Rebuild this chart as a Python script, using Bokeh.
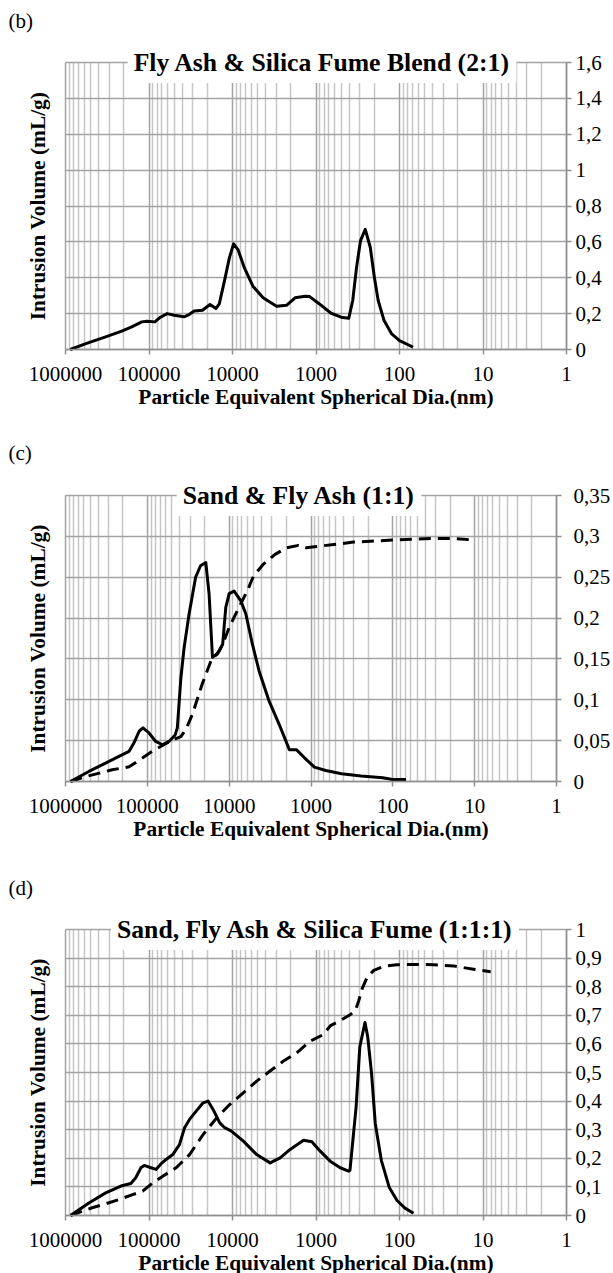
import numpy as np
from bokeh.plotting import figure
from bokeh.models import Range1d, FixedTicker, Label
from bokeh.layouts import column
from bokeh.embed import file_html
from bokeh.resources import INLINE

# ---------------- data ----------------
x_ticks = [1000000, 100000, 10000, 1000, 100, 10, 1]
x_tick_labels = ["1000000", "100000", "10000", "1000", "100", "10", "1"]

# (b) Fly Ash & Silica Fume Blend (2:1)
b_y_ticks = [0, 0.2, 0.4, 0.6, 0.8, 1.0, 1.2, 1.4, 1.6]
b_y_labels = ["0", "0,2", "0,4", "0,6", "0,8", "1", "1,2", "1,4", "1,6"]
b_dia = [880000, 537000, 337000, 212000, 161000, 122000, 106000, 85000, 73000, 60500,
         50000, 38000, 33100, 28800, 22900, 18600, 15800, 14400, 12500, 10900,
         9700, 8600, 7200, 5700, 4300, 2970, 2240, 1780, 1350, 1190,
         910, 660, 500, 405, 363, 327, 293, 257, 224, 200,
         180, 153, 124, 100, 80, 69]
b_vol = [0, 0.037, 0.069, 0.102, 0.126, 0.154, 0.158, 0.154, 0.18, 0.2,
         0.191, 0.182, 0.195, 0.214, 0.219, 0.251, 0.228, 0.254, 0.381, 0.511,
         0.589, 0.557, 0.455, 0.353, 0.288, 0.241, 0.247, 0.288, 0.297, 0.295,
         0.254, 0.202, 0.18, 0.174, 0.273, 0.458, 0.607, 0.67, 0.57, 0.403,
         0.273, 0.161, 0.087, 0.05, 0.028, 0.013]

# (c) Sand & Fly Ash (1:1)
c_y_ticks = [0, 0.05, 0.1, 0.15, 0.2, 0.25, 0.3, 0.35]
c_y_labels = ["0", "0,05", "0,1", "0,15", "0,2", "0,25", "0,3", "0,35"]
c_dia = [870000, 518000, 324000, 222000, 167000, 146000, 126000, 113000, 95500, 79000,
         65500, 54300, 45700, 43000, 38900, 35500, 30900, 25700, 22400, 19300,
         17600, 16000, 13900, 12000, 11000, 10000, 8700, 7200, 6250, 5200,
         4300, 3240, 2450, 1840, 1510, 1200, 910, 660, 424, 244,
         133, 101, 69]
c_vol = [0, 0.0123, 0.0225, 0.0307, 0.0369, 0.047, 0.0615, 0.0656, 0.0594, 0.049,
         0.045, 0.049, 0.057, 0.0656, 0.127, 0.164, 0.205, 0.25, 0.264, 0.268,
         0.23, 0.152, 0.156, 0.168, 0.213, 0.23, 0.233, 0.221, 0.205, 0.168,
         0.135, 0.098, 0.07, 0.039, 0.039, 0.029, 0.0176, 0.0135, 0.0094, 0.0066,
         0.0045, 0.0025, 0.0025]
c_cum_dia = [870000, 569000, 430000, 269000, 167000, 115000, 87000, 65500, 49000, 38900,
             33900, 28200, 21400, 16700, 13200, 12000, 10000, 7940, 5970, 5010,
             3840, 2750, 1980, 1420, 1140, 910, 525, 302, 101, 33.6,
             19.4, 10]
c_cum_vol = [0, 0.006, 0.009, 0.0143, 0.018, 0.0287, 0.037, 0.044, 0.051, 0.055,
             0.0635, 0.082, 0.119, 0.1475, 0.16, 0.168, 0.1885, 0.209, 0.234, 0.252,
             0.2656, 0.278, 0.286, 0.289, 0.286, 0.2873, 0.29, 0.293, 0.2955, 0.2975,
             0.2975, 0.2955]

# (d) Sand, Fly Ash & Silica Fume (1:1:1)
d_y_ticks = [0, 0.1, 0.2, 0.3, 0.4, 0.5, 0.6, 0.7, 0.8, 0.9, 1.0]
d_y_labels = ["0", "0,1", "0,2", "0,3", "0,4", "0,5", "0,6", "0,7", "0,8", "0,9", "1"]
d_dia = [870000, 525000, 330000, 217000, 165000, 144000, 125000, 114000, 94600, 82400,
         71600, 62400, 51900, 43200, 37500, 32700, 27200, 22500, 19600, 17100,
         14200, 12400, 10300, 7410, 5130, 3550, 2690, 2040, 1410, 1120,
         890, 676, 513, 407, 392, 331, 299, 259, 240, 216,
         195, 165, 133, 107, 86, 68]
d_vol = [0, 0.044, 0.079, 0.103, 0.112, 0.132, 0.167, 0.175, 0.167, 0.161,
         0.181, 0.196, 0.213, 0.248, 0.307, 0.336, 0.365, 0.394, 0.4, 0.371,
         0.324, 0.307, 0.295, 0.26, 0.213, 0.184, 0.2016, 0.231, 0.263, 0.258,
         0.225, 0.19, 0.167, 0.155, 0.158, 0.379, 0.589, 0.675, 0.624, 0.496,
         0.321, 0.193, 0.099, 0.0525, 0.0257, 0.008]
d_cum_dia = [870000, 631000, 479000, 330000, 228000, 157000, 119000, 90400, 68400, 47300,
             32700, 22500, 15500, 10800, 7430, 5130, 3550, 2450, 1700, 1170,
             813, 670, 509, 386, 337, 307, 280, 244, 203, 154,
             107, 67, 39, 22, 13, 8.1]
d_cum_vol = [0, 0.015, 0.027, 0.041, 0.056, 0.073, 0.085, 0.114, 0.1375, 0.167,
             0.213, 0.283, 0.341, 0.388, 0.429, 0.47, 0.505, 0.54, 0.569, 0.61,
             0.633, 0.664, 0.682, 0.703, 0.717, 0.752, 0.793, 0.833, 0.857, 0.871,
             0.877, 0.878, 0.877, 0.872, 0.861, 0.852]

# ---------------- styling ----------------
FONT = "Liberation Serif"
MAJOR_GRID = "#a3a3a3"
MINOR_GRID = "#c6c6c6"
AXIS_COL = "#8f8f8f"
minor_x = [m * 10 ** k for k in range(0, 6) for m in range(2, 10)]
LEFT = 65     # pixel position of the 1000000 grid line
WIDTH = 613


def make_panel(letter, title, y_ticks, y_labels, series, plot_w, plot_h, top, bottom,
               title_dx, y_standoff, letter_dy):
    ytop = y_ticks[-1]
    decade = plot_w / 6.0
    right = WIDTH - LEFT - plot_w
    fh = top + plot_h + bottom        # frame = whole canvas
    x_start = 10 ** (6 + LEFT / decade)
    x_end = 10 ** (-right / decade)
    y_end = ytop * (top + plot_h) / plot_h
    y_start = -ytop * bottom / plot_h
    p = figure(x_axis_type="log", x_range=Range1d(x_start, x_end),
               y_range=Range1d(y_start, y_end),
               frame_width=WIDTH, frame_height=fh,
               min_border_left=0, min_border_right=0, min_border_top=0,
               min_border_bottom=0,
               y_axis_location="right", toolbar_location=None, output_backend="svg",
               background_fill_color="white", border_fill_color="white",
               outline_line_color=None)

    xt = FixedTicker(ticks=x_ticks, minor_ticks=minor_x)
    yt = FixedTicker(ticks=y_ticks)
    p.xaxis.ticker = xt
    p.yaxis.ticker = yt
    p.xgrid.ticker = xt
    p.ygrid.ticker = yt
    p.xaxis.bounds = (1, 1000000)
    p.xaxis.fixed_location = 0
    p.yaxis.bounds = (0, ytop)
    p.yaxis.fixed_location = 1
    p.xgrid.cross_bounds = (0, ytop)
    p.ygrid.cross_bounds = (1, 1000000)

    p.xgrid.grid_line_color = MAJOR_GRID
    p.xgrid.grid_line_width = 1.5
    p.xgrid.minor_grid_line_color = MINOR_GRID
    p.xgrid.minor_grid_line_width = 1.5
    p.ygrid.grid_line_color = MAJOR_GRID
    p.ygrid.grid_line_width = 1.5

    p.xaxis.major_label_overrides = dict(zip(x_ticks, x_tick_labels))
    p.yaxis.major_label_overrides = dict(zip(y_ticks, y_labels))

    for ax in (p.xaxis[0], p.yaxis[0]):
        ax.axis_line_color = AXIS_COL
        ax.axis_line_width = 1.5
        ax.major_tick_line_color = AXIS_COL
        ax.major_tick_line_width = 1.5
        ax.major_tick_out = 5
        ax.major_tick_in = 0
        ax.minor_tick_out = 0
        ax.minor_tick_in = 0
        ax.major_label_text_font = FONT
        ax.major_label_text_font_size = "21px"
        ax.major_label_text_color = "black"
    p.xaxis.major_label_standoff = 12
    p.yaxis.major_label_standoff = y_standoff

    p.xaxis.axis_label = "Particle Equivalent Spherical Dia.(nm)"
    p.xaxis.axis_label_text_font = FONT
    p.xaxis.axis_label_text_font_style = "bold"
    p.xaxis.axis_label_text_font_size = "21.4px"
    p.xaxis.axis_label_text_color = "black"
    p.xaxis.axis_label_standoff = 1

    for dia, vol, dash in series:
        p.line(dia, vol, line_color="black", line_width=3, line_join="round",
               line_dash=dash)

    # chart title with white box straddling the top grid line
    p.add_layout(Label(x=1000, y=ytop, x_offset=title_dx, text=title,
                       text_align="center", text_baseline="alphabetic",
                       text_font=FONT, text_font_style="bold", text_font_size="25.7px",
                       text_color="black", background_fill_color="white", padding=6))
    # panel letter
    p.add_layout(Label(x=1000000, y=ytop, x_offset=-57, y_offset=letter_dy, text=letter,
                       text_align="left", text_baseline="middle",
                       text_font=FONT, text_font_size="21px", text_color="black"))
    # y axis title
    p.add_layout(Label(x=1000000, y=ytop / 2, x_offset=-28, text="Intrusion Volume (mL/g)",
                       angle=np.pi / 2, text_align="center", text_baseline="middle",
                       text_font=FONT, text_font_style="bold", text_font_size="21.4px",
                       text_color="black"))
    return p


pb = make_panel("(b)", "Fly Ash & Silica Fume Blend (2:1)", b_y_ticks, b_y_labels,
                [(b_dia, b_vol, "solid")], 501, 287, 62, 71, 6, 4, 42)
pc = make_panel("(c)", "Sand & Fly Ash (1:1)", c_y_ticks, c_y_labels,
                [(c_dia, c_vol, "solid"), (c_cum_dia, c_cum_vol, "12 7")],
                491, 286, 75, 59, -12, 12, 43)
pd_ = make_panel("(d)", "Sand, Fly Ash & Silica Fume (1:1:1)", d_y_ticks, d_y_labels,
                 [(d_dia, d_vol, "solid"), (d_cum_dia, d_cum_vol, "12 7")],
                 501, 286, 89, 58, -1, 4, 42)

layout = column(pb, pc, pd_, spacing=0)
open("out.html", "w").write(file_html(layout, INLINE))
